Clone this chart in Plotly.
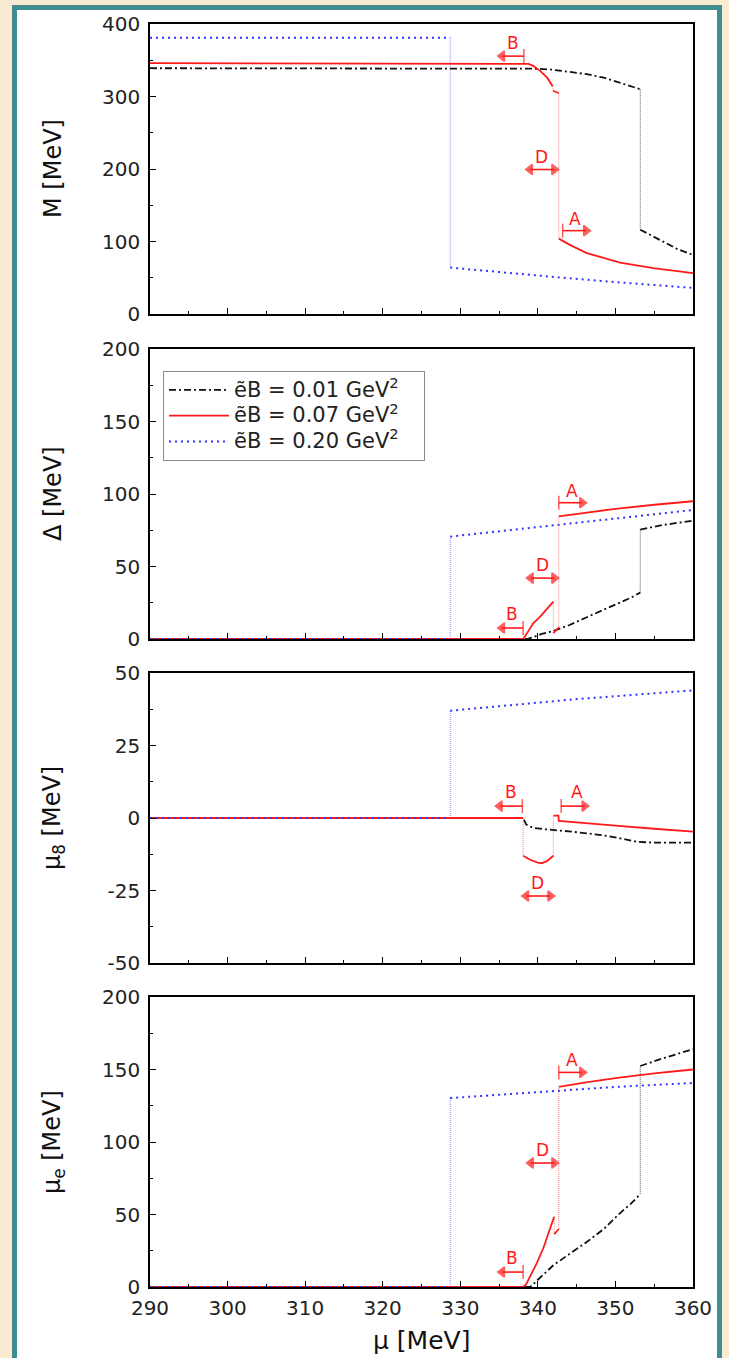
import plotly.graph_objects as go

# ---------------- data (mu in MeV) ----------------
MU_RANGE = [290, 360]
FIELDS = ["0.01", "0.07", "0.20"]

# eB = 0.01 GeV^2
M_01 = [([290, 338.5, 340, 342, 344, 346.3, 348.5, 350.6, 352, 353.2],
         [339, 339, 338.3, 336.8, 334.3, 330.8, 326, 319, 314.5, 310]),
        ([353.2, 355, 356.6, 358, 360], [116.3, 106, 98, 89.5, 81.7])]
D_01 = [([290, 338.6, 339.5, 340.5, 342, 344, 346.3, 348.5, 350.6, 352, 353.2],
         [0, 0, 1.5, 3.5, 5.5, 9.5, 15, 20, 25, 28.5, 32]),
        ([353.2, 356, 360], [75.5, 78.5, 81.7])]
MU8_01 = [([290, 338.1, 338.5, 339.4, 341, 342, 344, 346.3, 348.5, 350.6, 352.8, 355, 360],
           [0, 0, -2.3, -3.4, -3.9, -4.1, -4.6, -5.3, -6, -7, -8.2, -8.5, -8.5])]
MUE_01 = [([290, 339.0, 340, 341, 342, 344, 346.3, 348.5, 350.6, 352, 353.2],
           [0, 0, 5, 10, 15, 22.5, 31, 40, 51, 57.5, 64]),
          ([353.2, 356, 360], [152.4, 157.5, 164])]

# eB = 0.07 GeV^2
M_07 = [([290, 338.1, 338.8, 339.4, 340.3, 341.2, 341.9],
         [346, 346, 345, 342.3, 335.4, 326, 314]),
        ([341.95, 342.7], [308, 304.5]),
        ([342.7, 344, 346.3, 348.5, 350.6, 354.9, 360], [104, 96, 84, 77, 71, 63.3, 56.3])]
D_07 = [([290, 338.1, 338.6, 339.4, 340.3, 341.2, 342.0],
         [0, 0, 3.9, 10.8, 15.5, 21.2, 25.8]),
        ([342.0, 342.7], [4, 8]),
        ([342.7, 346, 350, 355, 360], [84.5, 87, 89.8, 92.6, 95])]
MU8_07 = [([290, 338.1], [0, 0]),
          ([338.1, 339.0, 340.0, 340.5, 341.2, 342.0], [-13, -14.4, -15.4, -15.6, -14.8, -13]),
          ([342.0, 342.65, 342.7, 346, 350, 355, 360], [0.8, 0.8, -1.0, -1.8, -2.6, -3.7, -4.7])]
MUE_07 = [([290, 338.1, 338.5, 339.0, 339.85, 340.7, 341.35, 342.1],
           [0, 0, 2, 7, 16.3, 26.7, 37, 48.5]),
          ([342.1, 342.7], [36.5, 40]),
          ([342.7, 346, 350, 355, 360], [138, 141, 144, 147.3, 150])]

# eB = 0.20 GeV^2
M_20 = [([290, 328.7], [381, 381]),
        ([328.7, 335, 342.7, 350, 355, 360], [64, 57.5, 50.5, 44, 39.5, 36])]
D_20 = [([290, 328.7], [0, 0]),
        ([328.7, 335, 340, 345, 350, 355, 360], [70.6, 74.2, 77, 80, 83, 86, 89])]
MU8_20 = [([290, 328.7], [0, 0]),
          ([328.7, 335, 340, 345, 350, 355, 360], [37, 38.6, 39.9, 41, 42, 43, 44])]
MUE_20 = [([290, 328.7], [0, 0]),
          ([328.7, 335, 342.7, 350, 360], [130.3, 132.5, 135.3, 138, 140.7])]

# axis ranges / ticks per panel
Y_RANGES = [[0, 400], [0, 200], [-50, 50], [0, 200]]
Y_DTICK = [100, 50, 25, 50]
MU8_TICKVALS = [-50, -25, 0, 25, 50]
MU8_TICKTEXT = ["-50", "-25", "0", "25", "50"]
Y_TITLES = ["M [MeV]", "\u0394 [MeV]", "\u03bc<sub>8</sub> [MeV]", "\u03bc<sub>e</sub> [MeV]"]
X_TITLE = "\u03bc [MeV]"

# phase-region markers: (label, tail mu, tip mu, y, both-ended, label mu, label y)
MARKS = [
    [("B", 338.2, 334.9, 355.7, False, 336.8, 373.7),
     ("D", 338.5, 342.6, 199.3, True, 340.5, 217),
     ("A", 343.2, 346.7, 115, False, 344.8, 131.5)],
    [("A", 342.7, 346.2, 94, False, 344.4, 102),
     ("D", 338.6, 342.6, 42, True, 340.6, 51),
     ("B", 338.1, 334.9, 7.6, False, 336.7, 17)],
    [("B", 338.0, 334.6, 4.1, False, 336.5, 9),
     ("A", 343.0, 346.5, 4.1, False, 345.0, 9),
     ("D", 338.0, 342.1, -26.9, True, 339.9, -22.4)],
    [("A", 342.7, 346.2, 148, False, 344.4, 156.5),
     ("D", 338.6, 342.6, 85.5, True, 340.6, 94.5),
     ("B", 338.1, 334.9, 10.3, False, 336.7, 20)],
]

# ---------------- styling ----------------
W, H = 729, 1358
FONT = "DejaVu Sans"
RED = "#ff1a1a"
STYLES = [
    dict(color="#111111", width=1.8, dash="7px,3px,2px,3px"),
    dict(color=RED, width=1.8, dash="solid"),
    dict(color="#3333ff", width=2.0, dash="2px,4px"),
]
JUMP_COLORS = ["#555555", "#ff8080", "#8080ff"]
PLOT_X = (150, 693)
PANELS_PX = [(24, 314), (349, 639), (673, 963), (997, 1287)]
HEAD_BACK = 0.5  # arrowhead centre sits this far (in MeV) behind the tip

panel_data = [
    [M_01, M_07, M_20],
    [D_01, D_07, D_20],
    [MU8_01, MU8_07, MU8_20],
    [MUE_01, MUE_07, MUE_20],
]

fig = go.Figure()


def join(segs):
    xs, ys = [], []
    for i, (mx, vy) in enumerate(segs):
        if i:
            xs.append(None)
            ys.append(None)
        xs += list(mx)
        ys += list(vy)
    return xs, ys


def jumps(segs):
    xs, ys = [], []
    for (m0, v0), (m1, v1) in zip(segs[:-1], segs[1:]):
        xs += [m0[-1], m1[0], None]
        ys += [v0[-1], v1[0], None]
    return xs, ys


def legend_name(field):
    # larger glyphs than the legend's row pitch, plus a little right padding
    return (f'<span style="font-size:21px">\u1ebdB = {field} GeV<sup>2</sup>'
            "\u00a0\u00a0\u00a0</span>")


for p, series in enumerate(panel_data):
    xa = "x" if p == 0 else f"x{p + 1}"
    ya = "y" if p == 0 else f"y{p + 1}"
    for s, segs in enumerate(series):
        jx, jy = jumps(segs)
        if jx:
            fig.add_trace(go.Scatter(
                x=jx, y=jy, mode="lines", xaxis=xa, yaxis=ya, showlegend=False,
                hoverinfo="skip",
                line=dict(color=JUMP_COLORS[s], width=1, dash="1px,1px")))
    for s, segs in enumerate(series):
        sx, sy = join(segs)
        fig.add_trace(go.Scatter(
            x=sx, y=sy, mode="lines", xaxis=xa, yaxis=ya,
            name=legend_name(FIELDS[s]),
            legendgroup=FIELDS[s], showlegend=(p == 0),
            line=STYLES[s], connectgaps=False))

    # phase-region arrows: bar at the tail, triangle at the tip
    for lab, tail, tip, yv, both, lx, ly in MARKS[p]:
        d = 1 if tip > tail else -1
        head_sym = "triangle-right" if d > 0 else "triangle-left"
        if both:
            xs = [tail + d * HEAD_BACK, tip - d * HEAD_BACK]
            syms = ["triangle-left" if d > 0 else "triangle-right", head_sym]
        else:
            xs = [tail, tip - d * HEAD_BACK]
            syms = ["line-ns", head_sym]
        fig.add_trace(go.Scatter(
            x=xs, y=[yv, yv], mode="lines+markers", xaxis=xa, yaxis=ya,
            showlegend=False, hoverinfo="skip",
            line=dict(color=RED, width=1.6),
            marker=dict(symbol=syms, size=[10 if s == "line-ns" else 9 for s in syms],
                        color=RED, line=dict(color=RED, width=1.5))))


def dom(top, bottom):
    return [1 - bottom / H, 1 - top / H]


axis_common = dict(
    showline=True, linecolor="black", linewidth=1.6, mirror=True,
    ticks="inside", ticklen=6, tickwidth=1.3, tickcolor="black",
    showgrid=False, zeroline=False, automargin=False,
    tickfont=dict(family=FONT, size=20, color="#222222"),
)

layout = dict(
    width=W, height=H,
    margin=dict(l=0, r=0, t=0, b=0, pad=0, autoexpand=False),
    paper_bgcolor="#f8ebd2",
    plot_bgcolor="white",
    showlegend=True,
    legend=dict(
        x=163 / W, y=1 - 371 / H, xanchor="left", yanchor="top",
        bgcolor="white", bordercolor="#8a8a8a", borderwidth=1,
        font=dict(family=FONT, size=17.5, color="#222222"),
        itemwidth=60, tracegroupgap=0,
    ),
    annotations=[], shapes=[],
)

for p in range(4):
    xk = "xaxis" if p == 0 else f"xaxis{p + 1}"
    yk = "yaxis" if p == 0 else f"yaxis{p + 1}"
    ya = "y" if p == 0 else f"y{p + 1}"
    xa = "x" if p == 0 else f"x{p + 1}"
    layout[xk] = dict(
        axis_common, domain=[PLOT_X[0] / W, PLOT_X[1] / W], range=MU_RANGE,
        anchor=ya, dtick=10, tick0=290, showticklabels=(p == 3),
        minor=dict(ticks="inside", ticklen=3.5, tickwidth=1.1, tickcolor="black", dtick=5),
        ticklabelstandoff=2,
    )
    ydef = dict(
        axis_common, domain=dom(*PANELS_PX[p]), range=Y_RANGES[p], anchor=xa,
        dtick=Y_DTICK[p], tick0=0,
        minor=dict(ticks="inside", ticklen=3.5, tickwidth=1.1, tickcolor="black",
                   dtick=Y_DTICK[p] / 2),
        ticklabelstandoff=4,
    )
    if p == 2:
        ydef.update(tickmode="array", tickvals=MU8_TICKVALS, ticktext=MU8_TICKTEXT)
    layout[yk] = ydef

    # axis titles
    top, bot = PANELS_PX[p]
    layout["annotations"].append(dict(
        text=Y_TITLES[p], xref="paper", yref="paper",
        x=53 / W, y=1 - (top + bot) / 2 / H, xanchor="center", yanchor="middle",
        textangle=-90, showarrow=False,
        font=dict(family=FONT, size=24, color="#111111")))

    # region letters
    for lab, tail, tip, yv, both, lx, ly in MARKS[p]:
        layout["annotations"].append(dict(
            text=lab, x=lx, y=ly, xref=xa, yref=ya, showarrow=False,
            xanchor="center", yanchor="middle",
            font=dict(family=FONT, size=17, color=RED)))

layout["annotations"].append(dict(
    text=X_TITLE, xref="paper", yref="paper", x=421 / W, y=1 - 1340 / H,
    xanchor="center", yanchor="middle", showarrow=False,
    font=dict(family=FONT, size=25, color="#111111")))

# white card with teal frame behind the panels
layout["shapes"].append(dict(
    type="rect", xref="paper", yref="paper", layer="below",
    x0=14.5 / W, x1=719.5 / W, y0=-0.02, y1=1 - 7.5 / H,
    fillcolor="white", line=dict(color="#3f8c91", width=5)))

fig.update_layout(layout)
fig.write_html("out.html")
